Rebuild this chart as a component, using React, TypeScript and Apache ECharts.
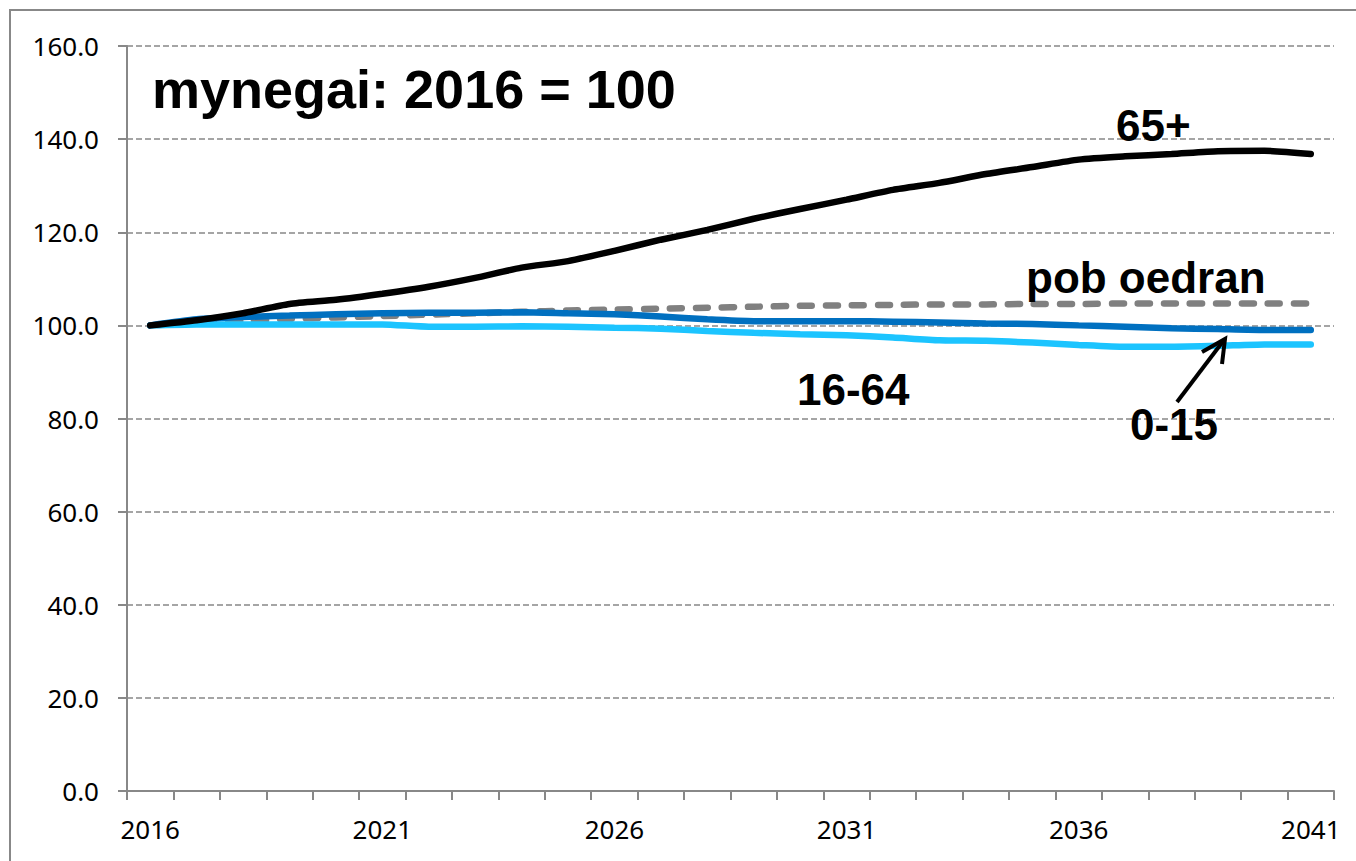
import React, { useEffect, useRef } from "react";
import * as echarts from "echarts";

const years = [
  "2016","2017","2018","2019","2020","2021","2022","2023","2024","2025","2026","2027","2028",
  "2029","2030","2031","2032","2033","2034","2035","2036","2037","2038","2039","2040","2041",
];
const age65plus = [
  100.0, 101.1, 102.6, 104.6, 105.5, 106.8, 108.3, 110.2, 112.4, 113.8, 116.0, 118.4, 120.5,
  122.9, 125.0, 127.0, 129.1, 130.6, 132.5, 134.0, 135.6, 136.3, 136.8, 137.4, 137.5, 136.8,
];
const allAges = [
  100.0, 100.6, 101.0, 101.4, 101.7, 102.0, 102.3, 102.6, 102.9, 103.2, 103.4, 103.6, 103.8,
  104.0, 104.2, 104.3, 104.4, 104.5, 104.5, 104.6, 104.6, 104.7, 104.7, 104.7, 104.7, 104.7,
];
const age0to15 = [
  100.0, 101.3, 101.8, 102.1, 102.4, 102.6, 102.7, 102.7, 102.8, 102.6, 102.4, 101.9, 101.3,
  100.9, 100.9, 100.9, 100.8, 100.6, 100.4, 100.3, 100.0, 99.7, 99.4, 99.2, 99.0, 99.0,
];
const age16to64 = [
  100.0, 100.2, 100.2, 100.2, 100.2, 100.2, 99.7, 99.7, 99.8, 99.7, 99.5, 99.3, 98.8,
  98.4, 98.1, 97.9, 97.4, 96.8, 96.7, 96.3, 95.8, 95.4, 95.4, 95.6, 95.9, 95.9,
];

const GRID = "#888888";
const LABEL_FONT = '"Noto Sans", "Liberation Sans", sans-serif';
const BOLD_FONT = '"Liberation Sans", Arial, sans-serif';

export default function App() {
  const ref = useRef<HTMLDivElement>(null);
  useEffect(() => {
    if (!ref.current) return;
    const chart = echarts.init(ref.current, null, { renderer: "svg" });
    const txt = (text: string, x: number, y: number, size: number) => ({
      type: "text",
      x,
      y,
      z: 100,
      style: {
        text,
        fill: "#000",
        font: `bold ${size}px ${BOLD_FONT}`,
        align: "left",
        verticalAlign: "middle",
      },
    });
    chart.setOption({
      animation: false,
      backgroundColor: "#fff",
      grid: { left: 127, right: 22, top: 46, bottom: 70, containLabel: false },
      xAxis: {
        type: "category",
        data: years,
        boundaryGap: true,
        axisLine: { lineStyle: { color: GRID, width: 2 } },
        axisTick: { show: true, interval: 0, length: 9, lineStyle: { color: GRID, width: 2 } },
        axisLabel: { interval: 4, color: "#000", fontSize: 26, fontFamily: LABEL_FONT, margin: 25 },
        splitLine: { show: false },
      },
      yAxis: {
        type: "value",
        min: 0,
        max: 160,
        interval: 20,
        axisLine: { show: true, lineStyle: { color: GRID, width: 2 } },
        axisTick: { show: true, length: 9, lineStyle: { color: GRID, width: 2 } },
        axisLabel: {
          color: "#000",
          fontSize: 26,
          fontFamily: LABEL_FONT,
          margin: 28,
          formatter: (v: number) => v.toFixed(1),
        },
        splitLine: { show: true, lineStyle: { color: GRID, width: 1.5, type: [6, 3] } },
      },
      series: [
        {
          name: "pob oedran",
          type: "line",
          data: allAges,
          symbol: "none",
          smooth: 0.2,
          lineStyle: { color: "#808080", width: 6.5, type: [12, 14], cap: "round" },
          z: 2,
        },
        {
          name: "16-64",
          type: "line",
          data: age16to64,
          symbol: "none",
          smooth: 0.2,
          lineStyle: { color: "#1CC4FF", width: 6.5, cap: "round" },
          z: 3,
        },
        {
          name: "0-15",
          type: "line",
          data: age0to15,
          symbol: "none",
          smooth: 0.2,
          lineStyle: { color: "#0070C0", width: 6.5, cap: "round" },
          z: 4,
        },
        {
          name: "65+",
          type: "line",
          data: age65plus,
          symbol: "none",
          smooth: 0.2,
          lineStyle: { color: "#000000", width: 6.5, cap: "round" },
          z: 5,
        },
      ],
      graphic: [
        {
          type: "rect",
          shape: { x: 10, y: 10, width: 1400, height: 900 },
          style: { fill: "none", stroke: GRID, lineWidth: 2 },
          silent: true,
          z: -10,
        },
        txt("mynegai: 2016 = 100", 152, 89, 54),
        txt("65+", 1116, 125, 44),
        txt("pob oedran", 1026, 277, 44),
        txt("16-64", 797, 389, 44),
        txt("0-15", 1130, 424, 44),
        {
          type: "line",
          shape: { x1: 1177, y1: 402, x2: 1224, y2: 340 },
          style: { stroke: "#000", lineWidth: 4 },
          z: 100,
        },
        {
          type: "polyline",
          shape: { points: [[1202, 352], [1225, 339], [1222, 364]] },
          style: { stroke: "#000", lineWidth: 4, fill: "none" },
          z: 100,
        },
      ],
    });
    return () => chart.dispose();
  }, []);
  return (
    <div
      ref={ref}
      style={{ position: "absolute", left: 0, top: 0, width: 1356, height: 861 }}
    />
  );
}
